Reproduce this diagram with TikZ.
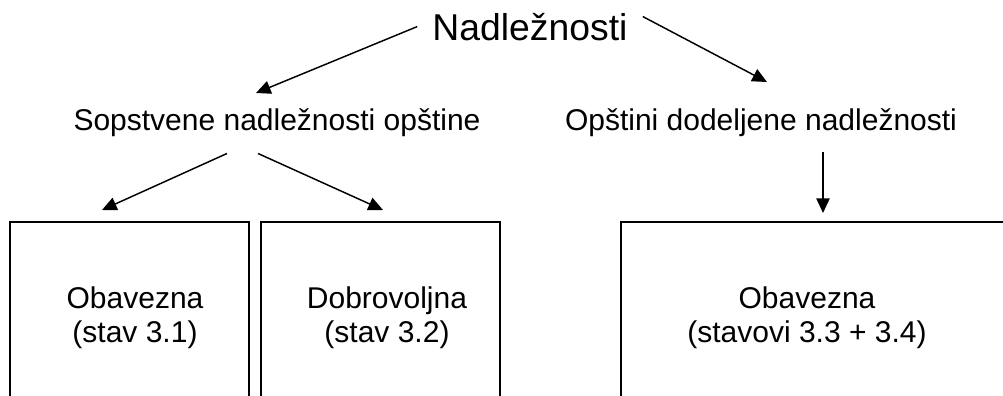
\documentclass[tikz,border=0pt]{standalone}
\usepackage{fontspec}
\setmainfont{Liberation Sans}
\usetikzlibrary{arrows.meta,calc}
\tikzset{
  nadtitle/.style={font=\fontsize{28}{33}\selectfont, inner sep=0pt},
  nadsub/.style={font=\fontsize{22.5}{25.5}\selectfont, inner sep=0pt},
  nadtext/.style={font=\fontsize{22.5}{25.5}\selectfont, align=center, inner sep=0pt},
  nadbox/.style={draw, line width=1.5pt, minimum height=150pt, anchor=north},
  nadarrow/.style={-{Triangle[length=11pt,width=10pt]}, line width=1.1pt}
}
\begin{document}
\begin{tikzpicture}[x=0.75pt,y=-0.75pt]
\useasboundingbox (0,0) rectangle (1003,396);
\clip (0,0) rectangle (1003,396);
\node[nadtitle, anchor=base] (top) at (530,40) {Nadležnosti};
\node[nadsub, anchor=base] (own) at (277,130) {Sopstvene nadležnosti opštine};
\node[nadsub, anchor=base] (assigned) at (761,130) {Opštini dodeljene nadležnosti};
% boxes, their bottoms run off the page
\node[nadbox, minimum width=179.25pt] (box1) at (129.5,221) {};
\node[nadbox, minimum width=179.25pt] (box2) at (380.5,221) {};
\node[nadbox, minimum width=300pt] (box3) at (821,221) {};
\node[nadtext] (obl) at (135,318) {Obavezna\\(stav 3.1)};
\node[nadtext] (dob) at (387,318) {Dobrovoljna\\(stav 3.2)};
\node[nadtext] (obr) at (807,318) {Obavezna\\(stavovi 3.3 + 3.4)};
% arrow tips
\coordinate (t1) at (256,93);
\coordinate (t2) at (767,82);
\coordinate (t3) at ($(box1.north)+(-27.5,-11)$);
\coordinate (t4) at ($(box2.north)+(2.5,-11)$);
\coordinate (t5) at ($(box3.north)+(2,-8)$);
\draw[nadarrow] ($(top.west)+(-15,0)$) -- (t1);
\draw[nadarrow] ($(top.north east)+(15,4)$) -- (t2);
\draw[nadarrow] ($(own.south)+(-50,17)$) -- (t3);
\draw[nadarrow] ($(own.south)+(-19,17)$) -- (t4);
\draw[nadarrow] ($(assigned.south)+(62,16)$) -- (t5);
\end{tikzpicture}
\end{document}
